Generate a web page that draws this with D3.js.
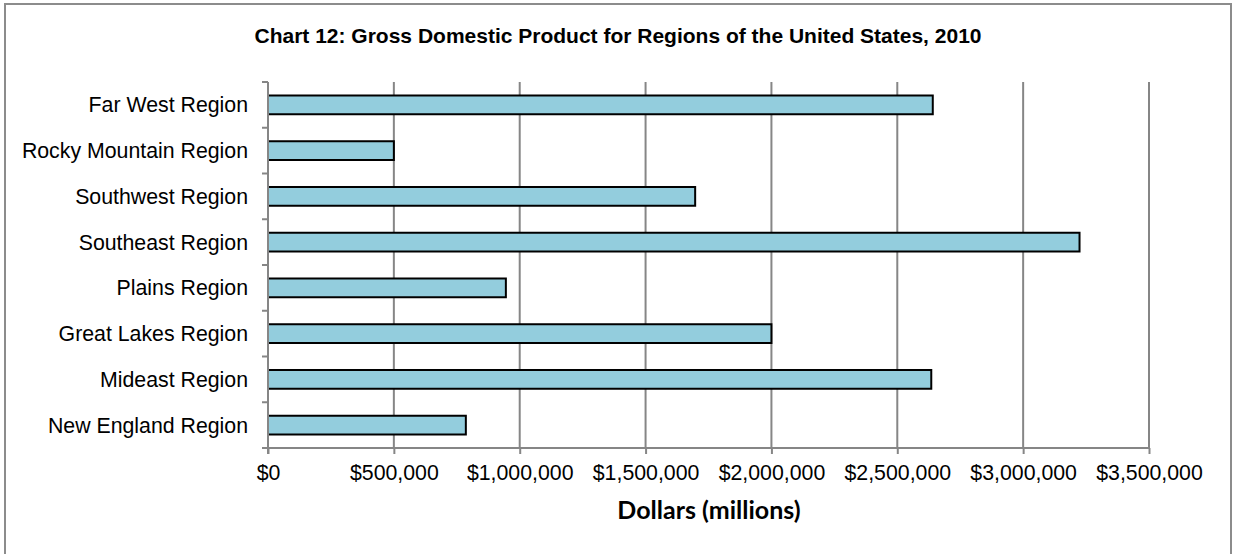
<!DOCTYPE html>
<html>
<head>
<meta charset="utf-8">
<script src="https://cdn.jsdelivr.net/npm/d3@7"></script>
<style>
  body { margin: 0; background: #fff; }
  .chart text { font-family: "Liberation Sans", Arial, sans-serif; fill: #000; }
</style>
</head>
<body>
<div class="chart"></div>
<script>
// data
const regions = ['Far West Region', 'Rocky Mountain Region', 'Southwest Region', 'Southeast Region',
                 'Plains Region', 'Great Lakes Region', 'Mideast Region', 'New England Region'];
const gdp = [2641000, 500000, 1697000, 3224000, 945000, 2000000, 2635000, 786000];
const xTicks = [0, 500000, 1000000, 1500000, 2000000, 2500000, 3000000, 3500000];

const W = 1233, H = 554;

const svg = d3.select('.chart')
  .append('svg')
    .attr('width', W)
    .attr('height', H);

// outer frame (bottom edge runs past the picture)
svg.append('rect')
  .attr('x', 5).attr('y', 4)
  .attr('width', 1226).attr('height', 600)
  .attr('fill', 'none')
  .attr('stroke', '#8c8c8c')
  .attr('stroke-width', 2);

// plot area
const margin = {top: 82, right: 84, bottom: 106, left: 268};
const graphWidth = 1149 - margin.left;
const graphHeight = 448 - margin.top;

const graph = svg.append('g')
  .attr('transform', `translate(${margin.left}, ${margin.top})`);

const x = d3.scaleLinear()
  .domain([0, 3500000])
  .range([0, graphWidth]);

const y = d3.scaleBand()
  .domain(regions)
  .range([0, graphHeight])
  .paddingInner(0.59)
  .paddingOuter(0.295);

// vertical gridlines
graph.selectAll('line.grid')
  .data(xTicks.slice(1))
  .enter().append('line')
    .attr('class', 'grid')
    .attr('x1', d => x(d)).attr('x2', d => x(d))
    .attr('y1', 0).attr('y2', graphHeight)
    .attr('stroke', '#868686')
    .attr('stroke-width', 2);

// bars
graph.selectAll('rect.bar')
  .data(regions)
  .enter().append('rect')
    .attr('class', 'bar')
    .attr('x', 0)
    .attr('y', d => y(d))
    .attr('width', (d, i) => x(gdp[i]))
    .attr('height', y.bandwidth())
    .attr('fill', '#93cddd')
    .attr('stroke', '#000')
    .attr('stroke-width', 2);

// x axis
const xAxis = d3.axisBottom(x)
  .tickValues(xTicks)
  .tickSize(6)
  .tickPadding(11)
  .tickFormat(d => '$' + d3.format(',')(d));

const xAxisGroup = graph.append('g')
  .attr('transform', `translate(0, ${graphHeight})`)
  .call(xAxis);

xAxisGroup.select('.domain')
  .attr('d', `M0,0H${graphWidth}`)
  .attr('stroke', '#868686')
  .attr('stroke-width', 2);
xAxisGroup.selectAll('.tick line')
  .attr('stroke', '#868686')
  .attr('stroke-width', 2);
xAxisGroup.selectAll('text')
  .attr('font-size', 21.3)
  .attr('font-family', '"Liberation Sans", Arial, sans-serif');

// y axis: ticks sit on the band boundaries
const yAxisGroup = graph.append('g');
yAxisGroup.append('line')
  .attr('x1', 0).attr('x2', 0)
  .attr('y1', 0).attr('y2', graphHeight + 6)
  .attr('stroke', '#868686')
  .attr('stroke-width', 2);

const step = y.step();
const bounds = d3.range(regions.length + 1).map(i => y(regions[0]) - y.paddingOuter() * step + i * step);
yAxisGroup.selectAll('line.ytick')
  .data(bounds)
  .enter().append('line')
    .attr('class', 'ytick')
    .attr('x1', -6).attr('x2', 0)
    .attr('y1', d => d).attr('y2', d => d)
    .attr('stroke', '#868686')
    .attr('stroke-width', 2);

yAxisGroup.selectAll('text')
  .data(regions)
  .enter().append('text')
    .attr('x', -20)
    .attr('y', d => y(d) + y.bandwidth() / 2)
    .attr('dy', '0.35em')
    .attr('text-anchor', 'end')
    .attr('font-size', 21.3)
    .text(d => d);

// titles
svg.append('text')
  .attr('x', 618)
  .attr('y', 43)
  .attr('text-anchor', 'middle')
  .attr('font-size', 21)
  .attr('font-weight', 'bold')
  .text('Chart 12: Gross Domestic Product for Regions of the United States, 2010');

svg.append('text')
  .attr('x', 709)
  .attr('y', 519)
  .attr('text-anchor', 'middle')
  .attr('font-size', 25)
  .attr('font-weight', 'bold')
  .style('font-family', 'Lato, "Open Sans", sans-serif')
  .text('Dollars (millions)');
</script>
</body>
</html>
